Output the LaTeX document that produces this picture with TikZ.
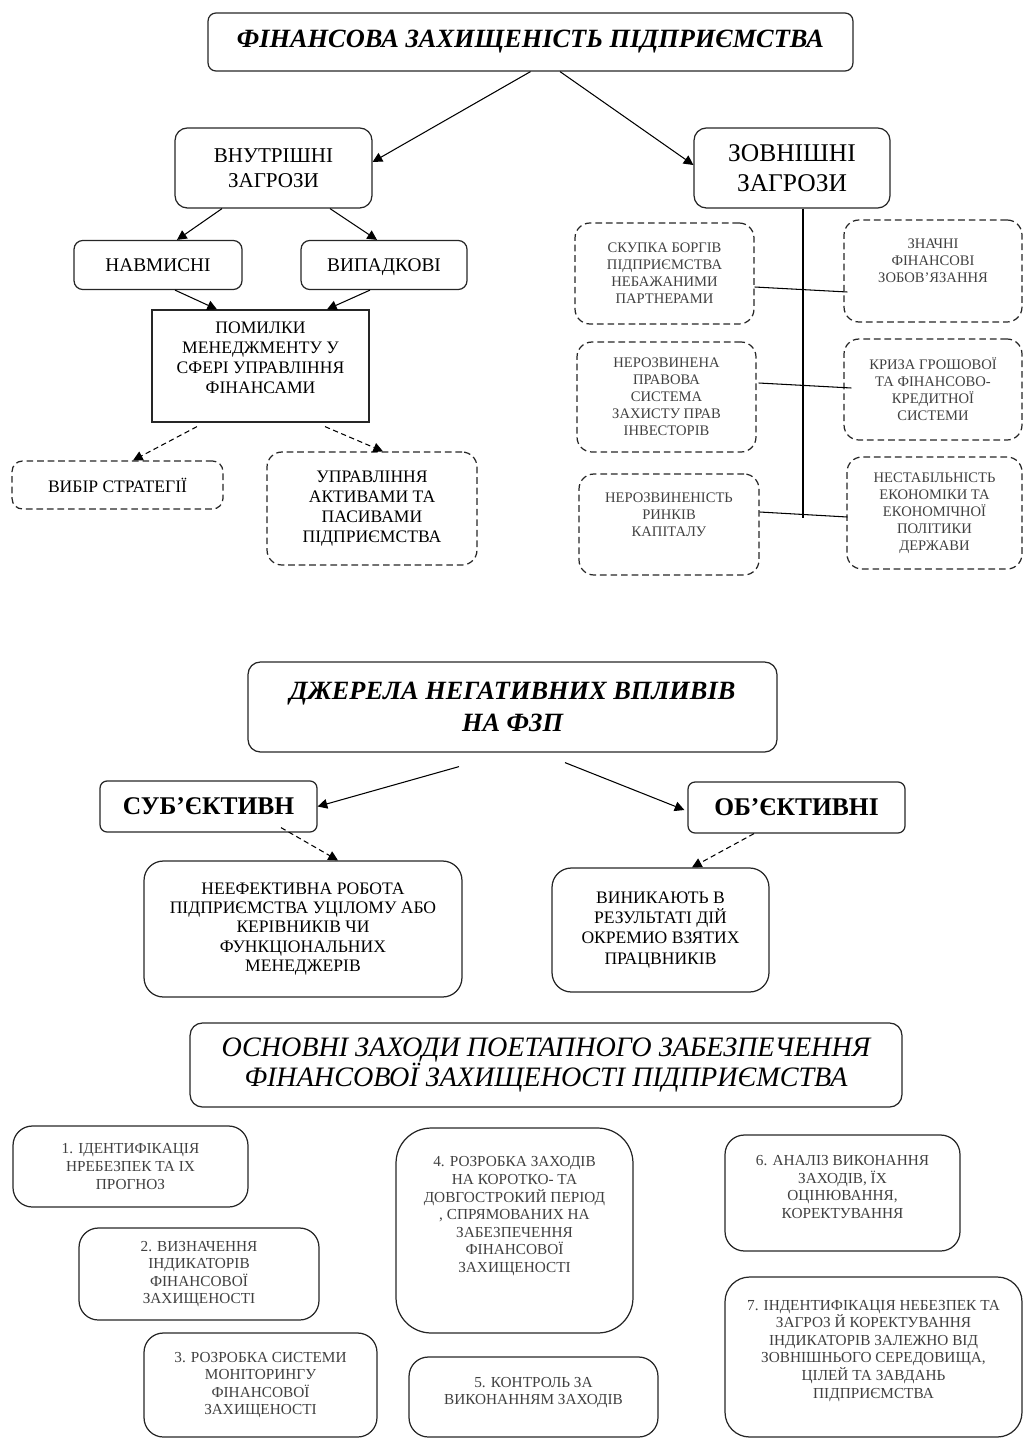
\documentclass[tikz,border=0pt]{standalone}
\usepackage{fontspec}
\setmainfont{Liberation Serif}
\usetikzlibrary{arrows.meta}
% empty last row that pushes the text up in its box
\newcommand{\lift}[1]{\\[#1]\mbox{}}

\begin{document}
\begin{tikzpicture}[x=0.02cm, y=-0.02cm,
    box/.style={draw=black!85, line width=0.7pt, rounded corners=#1, align=center, inner sep=2pt},
    box/.default=7pt,
    dbox/.style={box=#1, dash pattern=on 3.8pt off 2.2pt},
    dbox/.default=8.5pt,
    wh/.style 2 args={minimum width=#1cm, minimum height=#2cm},
    head/.style={font=\fontsize{15}{18}\selectfont\bfseries\itshape},
    mid/.style={font=\fontsize{10}{11.4}\selectfont},
    small/.style={font=\fontsize{8.3}{9.7}\selectfont, text=black!75},
    stage/.style={box=11pt, font=\fontsize{8.7}{10}\selectfont, text=black!75},
    arr/.style={-{Triangle[length=5.5pt,width=5.5pt]}, line width=0.6pt},
    darr/.style={arr, dash pattern=on 3pt off 2pt},
    link/.style={line width=0.6pt}
  ]
  \useasboundingbox (0,0) rectangle (1023,1439);

  % Financial security of the enterprise
  \node[box=4.5pt, head, wh={12.9}{1.16}] (fsec) at (530.5,42) {ФІНАНСОВА ЗАХИЩЕНІСТЬ ПІДПРИЄМСТВА};
  \node[box, wh={3.94}{1.6}, font=\fontsize{12}{14.2}\selectfont] (intern) at (273.5,168) {ВНУТРІШНІ\\ЗАГРОЗИ};
  \node[box, wh={3.92}{1.6}, font=\fontsize{14.5}{17}\selectfont] (extern) at (792,168) {ЗОВНІШНІ\\ЗАГРОЗИ};
  \node[box=5pt, wh={3.36}{0.98}, text depth=0pt, font=\fontsize{11}{13}\selectfont] (deliber) at (158,265) {НАВМИСНІ};
  \node[box=5pt, wh={3.32}{0.98}, text depth=0pt, font=\fontsize{11}{13}\selectfont] (random) at (384,265) {ВИПАДКОВІ};
  \node[box=0pt, wh={4.34}{2.24}, mid] (mistake) at (260.5,366) {ПОМИЛКИ\\МЕНЕДЖМЕНТУ У\\СФЕРІ УПРАВЛІННЯ\\ФІНАНСАМИ\lift{-2.3pt}};
  \node[dbox=6pt, wh={4.22}{0.96}, mid] (strat) at (117.5,485) {ВИБІР СТРАТЕГІЇ};
  \node[dbox, wh={4.2}{2.26}, mid] (assets) at (372,508.5) {УПРАВЛІННЯ\\АКТИВАМИ ТА\\ПАСИВАМИ\\ПІДПРИЄМСТВА};

  % External threats
  \node[dbox, wh={3.58}{2.02}, small] (debts) at (664.5,273.5) {СКУПКА БОРГІВ\\ПІДПРИЄМСТВА\\НЕБАЖАНИМИ\\ПАРТНЕРАМИ};
  \node[dbox, wh={3.58}{2.2}, small] (legal) at (666.5,397) {НЕРОЗВИНЕНА\\ПРАВОВА\\СИСТЕМА\\ЗАХИСТУ ПРАВ\\ІНВЕСТОРІВ};
  \node[dbox, wh={3.6}{2.02}, small] (markets) at (669,524.5) {НЕРОЗВИНЕНІСТЬ\\РИНКІВ\\КАПІТАЛУ\lift{1.7pt}};
  \node[dbox, wh={3.56}{2.04}, small] (liabil) at (933,271) {ЗНАЧНІ\\ФІНАНСОВІ\\ЗОБОВ’ЯЗАННЯ\lift{1.7pt}};
  \node[dbox, wh={3.56}{2.02}, small] (crisis) at (933,389.5) {КРИЗА ГРОШОВОЇ\\ТА ФІНАНСОВО-\\КРЕДИТНОЇ\\СИСТЕМИ};
  \node[dbox, wh={3.5}{2.24}, small] (instab) at (934.5,513) {НЕСТАБІЛЬНІСТЬ\\ЕКОНОМІКИ ТА\\ЕКОНОМІЧНОЇ\\ПОЛІТИКИ\\ДЕРЖАВИ};
  \coordinate (trunk) at (803,518);

  % Arrows
  \draw[arr] (fsec.south) -- ([shift={(0,-6)}]intern.east);
  \draw[arr] ([shift={(29.5,0)}]fsec.south) -- ([shift={(0,-3)}]extern.west);
  \draw[arr] ([shift={(-51.5,0)}]intern.south) -- ([shift={(19,0)}]deliber.north);
  \draw[arr] ([shift={(56.5,0)}]intern.south) -- ([shift={(-7,0)}]random.north);
  \draw[arr] ([shift={(17,0)}]deliber.south) -- ([shift={(-43.5,0)}]mistake.north);
  \draw[arr] ([shift={(-14,0)}]random.south) -- ([shift={(66.5,0)}]mistake.north);
  \draw[darr] ([shift={(-63.5,4)}]mistake.south) -- ([shift={(15.5,0)}]strat.north);
  \draw[darr] ([shift={(64.5,4)}]mistake.south) -- ([shift={(11,0)}]assets.north);
  \draw[link] (extern.south -| trunk) -- (trunk);
  \draw[link] ([shift={(0,13.5)}]debts.east) -- ([shift={(4,21)}]liabil.west);
  \draw[link] ([shift={(2,-14)}]legal.east) -- ([shift={(8,-1.5)}]crisis.west);
  \draw[link] ([shift={(0,-12.5)}]markets.east) -- ([shift={(1,4)}]instab.west);

  % Sources of negative influence
  \node[box, head, wh={10.58}{1.8}] (sources) at (512.5,707) {ДЖЕРЕЛА НЕГАТИВНИХ ВПЛИВІВ\\НА ФЗП};
  \node[box=4pt, wh={4.34}{1.02}, font=\fontsize{14.5}{17}\selectfont\bfseries] (subj) at (208.5,806.5) {СУБ’ЄКТИВН};
  \node[box=4pt, wh={4.34}{1.02}, font=\fontsize{14.5}{17}\selectfont\bfseries] (obj) at (796.5,807.5) {ОБ’ЄКТИВНІ};
  \node[box=11pt, wh={6.36}{2.72}, font=\fontsize{10}{11}\selectfont] (ineff) at (303,929) {НЕЕФЕКТИВНА РОБОТА\\ПІДПРИЄМСТВА УЦІЛОМУ АБО\\КЕРІВНИКІВ ЧИ\\ФУНКЦІОНАЛЬНИХ\\МЕНЕДЖЕРІВ};
  \node[box=11pt, wh={4.34}{2.48}, mid] (arise) at (660.5,930) {ВИНИКАЮТЬ В\\РЕЗУЛЬТАТІ ДІЙ\\ОКРЕМИО ВЗЯТИХ\\ПРАЦВНИКІВ};

  \draw[arr] ([shift={(-53.5,14)}]sources.south) -- (subj.east);
  \draw[arr] ([shift={(52.5,10)}]sources.south) -- ([shift={(-3,2.5)}]obj.west);
  \draw[darr] ([shift={(72.5,-5)}]subj.south) -- ([shift={(35,0)}]ineff.north);
  \draw[darr] ([shift={(-42.5,0)}]obj.south) -- ([shift={(31.5,0)}]arise.north);

  % Stage-by-stage measures
  \node[box, wh={14.24}{1.68}, font=\fontsize{16}{17}\selectfont\itshape] (measures) at (546,1065) {ОСНОВНІ ЗАХОДИ ПОЕТАПНОГО ЗАБЕЗПЕЧЕННЯ\\ФІНАНСОВОЇ ЗАХИЩЕНОСТІ ПІДПРИЄМСТВА};
  \node[stage, wh={4.7}{1.62}] (st1) at (130.5,1166.5) {1. ІДЕНТИФІКАЦІЯ\\НРЕБЕЗПЕК ТА ІХ\\ПРОГНОЗ};
  \node[stage, wh={4.8}{1.84}] (st2) at (199,1274) {2. ВИЗНАЧЕННЯ\\ІНДИКАТОРІВ\\ФІНАНСОВОЇ\\ЗАХИЩЕНОСТІ};
  \node[stage, wh={4.66}{2.08}] (st3) at (260.5,1385) {3. РОЗРОБКА СИСТЕМИ\\МОНІТОРИНГУ\\ФІНАНСОВОЇ\\ЗАХИЩЕНОСТІ};
  \node[stage, rounded corners=20pt, wh={4.74}{4.1}] (st4) at (514.5,1230.5) {4. РОЗРОБКА ЗАХОДІВ\\НА КОРОТКО- ТА\\ДОВГОСТРОКИЙ ПЕРІОД\\, СПРЯМОВАНИХ НА\\ЗАБЕЗПЕЧЕННЯ\\ФІНАНСОВОЇ\\ЗАХИЩЕНОСТІ\lift{8.2pt}};
  \node[stage, wh={4.98}{1.6}] (st5) at (533.5,1397) {5. КОНТРОЛЬ ЗА\\ВИКОНАННЯМ ЗАХОДІВ\lift{-3.2pt}};
  \node[stage, wh={4.7}{2.32}] (st6) at (842.5,1193) {6. АНАЛІЗ ВИКОНАННЯ\\ЗАХОДІВ, ЇХ\\ОЦІНЮВАННЯ,\\КОРЕКТУВАННЯ\lift{-3.2pt}};
  \node[stage, rounded corners=14pt, wh={5.94}{3.2}] (st7) at (873.5,1357) {7. ІНДЕНТИФІКАЦІЯ НЕБЕЗПЕК ТА\\ЗАГРОЗ Й КОРЕКТУВАННЯ\\ІНДИКАТОРІВ ЗАЛЕЖНО ВІД\\ЗОВНІШНЬОГО СЕРЕДОВИЩА,\\ЦІЛЕЙ ТА ЗАВДАНЬ\\ПІДПРИЄМСТВА\lift{-0.9pt}};
\end{tikzpicture}
\end{document}
